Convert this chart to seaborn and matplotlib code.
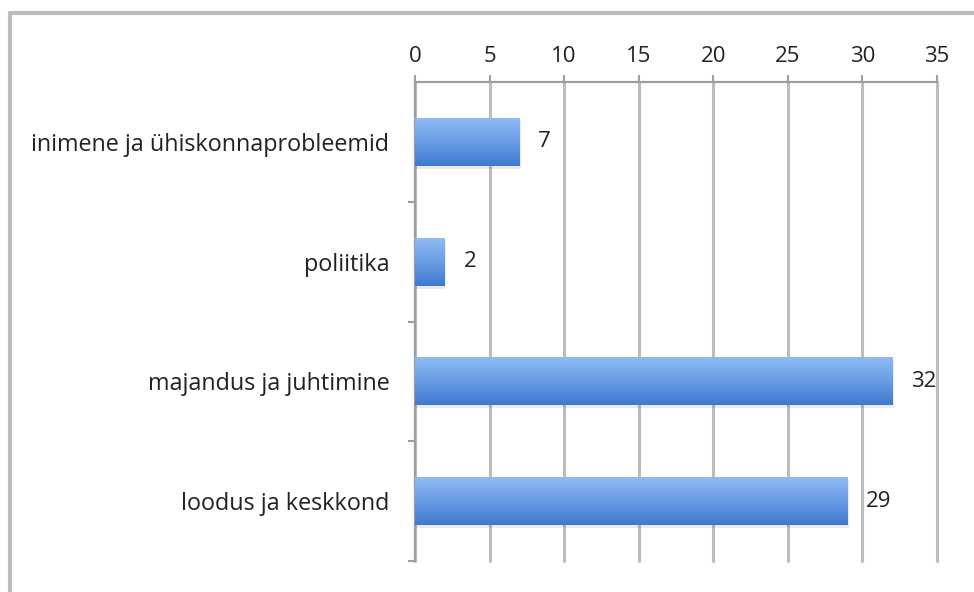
import matplotlib
matplotlib.use("Agg")
import matplotlib.pyplot as plt
import seaborn as sns
import numpy as np
import pandas as pd
from matplotlib.lines import Line2D
from matplotlib.colors import LinearSegmentedColormap

categories = ["inimene ja ühiskonnaprobleemid", "poliitika", "majandus ja juhtimine", "loodus ja keskkond"]
values = [7, 2, 32, 29]
xticks = [0, 5, 10, 15, 20, 25, 30, 35]

sns.set_style("white")
plt.rcParams['font.family'] = ['Open Sans', 'DejaVu Sans']

FS = 16
FSY = 16.8

fig = plt.figure(figsize=(9.74, 5.92), dpi=100)
ax = fig.add_axes([415/974, 1 - 561/592, (937 - 415)/974, (561 - 82)/592])

df = pd.DataFrame({"cat": categories, "val": values})
sns.barplot(data=df, x="val", y="cat", orient="h", color="#5B93DE", width=0.4,
            ax=ax, zorder=3, saturation=1)

grad = np.linspace(0, 1, 256).reshape(-1, 1)
cmap = LinearSegmentedColormap.from_list("g", ["#90BAF5", "#6A9DE6", "#3E79CD"])
for p in ax.patches[:]:
    x0, y0 = p.get_x(), p.get_y()
    w, h = p.get_width(), p.get_height()
    ax.add_patch(plt.Rectangle((x0 + 0.1, y0 + 0.025), w, h, color="#000000", alpha=0.08,
                               zorder=2.5, lw=0))
    im = ax.imshow(grad, cmap=cmap, aspect="auto", extent=(x0, x0 + w, y0 + h, y0),
                   zorder=4, interpolation="bilinear")
    im.set_clip_path(p)
    p.set_edgecolor("none")

ax.set_xlim(0, 35)
ax.set_ylim(3.5, -0.5)
ax.set_xticks(xticks)
ax.set_xticklabels([str(t) for t in xticks])
ax.xaxis.tick_top()
ax.set_xlabel("")
ax.set_ylabel("")

ax.grid(axis="x", color="#BDBDBD", linewidth=2.2, zorder=0)
for gl in ax.get_xgridlines():
    gl.set_clip_on(False)
ax.set_axisbelow(True)

for s in ["right", "bottom"]:
    ax.spines[s].set_visible(False)
for s in ["top", "left"]:
    ax.spines[s].set_color("#9E9E9E")
    ax.spines[s].set_linewidth(1.6)

ax.tick_params(axis="x", top=True, length=5, width=1.5, color="#9E9E9E",
               labelsize=FS, labelcolor="#222222", pad=6)
ax.tick_params(axis="y", left=False, labelsize=FSY, labelcolor="#222222", pad=15)
ax.set_yticks([0.5, 1.5, 2.5, 3.5], minor=True)
ax.tick_params(axis="y", which="minor", left=True, length=5, width=1.5, color="#9E9E9E")

for i, v in enumerate(values):
    ax.text(v + 1.25, i, str(v), va="center", ha="left", fontsize=FS, color="#222222", zorder=5)

fig.add_artist(Line2D([10/974, 1.0], [1 - 13/592, 1 - 13/592], transform=fig.transFigure,
                      color="#BDBDBD", lw=3))
fig.add_artist(Line2D([10/974, 10/974], [0, 1 - 13/592], transform=fig.transFigure,
                      color="#BDBDBD", lw=3))

fig.savefig("out.png", dpi=100)
